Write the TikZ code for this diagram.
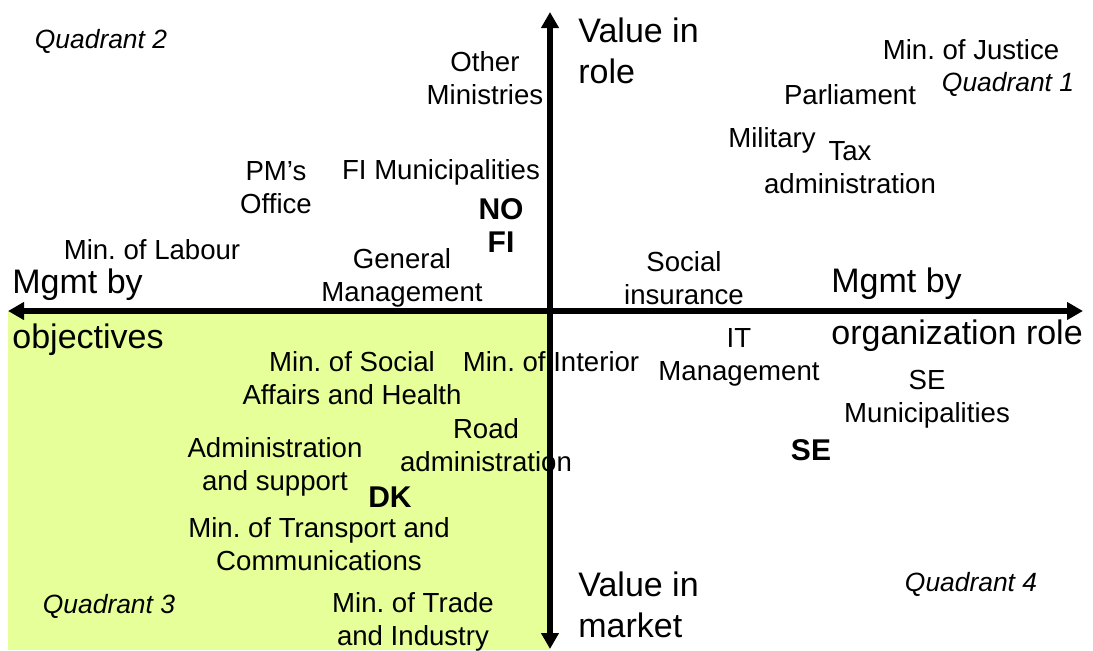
\documentclass[tikz,border=0pt]{standalone}
\usepackage{fontspec}
\setmainfont{Liberation Sans}
\usetikzlibrary{arrows.meta}
\frenchspacing
\definecolor{quadgreen}{RGB}{230,255,153}
\newcommand\labfont{\fontsize{13.8pt}{16.5pt}\selectfont}
\newcommand\ctryfont{\fontsize{15pt}{16.5pt}\selectfont\bfseries}
\newcommand\axfont{\fontsize{17pt}{20.5pt}\selectfont}
\newcommand\quadfont{\fontsize{13.2pt}{16pt}\selectfont\itshape}
\newcommand\tip{Triangle[length=8pt,width=8.5pt]}

\begin{document}
\begin{tikzpicture}[x=0.5pt, y=-0.5pt,
  lbl/.style={align=center, inner sep=0pt, font=\labfont},
  ctry/.style={align=center, inner sep=0pt, font=\ctryfont},
  quad/.style={inner sep=0pt, font=\quadfont},
  axlbl/.style={align=left, inner sep=0pt, anchor=west, font=\axfont},
  axis/.style={line width=3pt, {\tip}-{\tip}}]
  \useasboundingbox (0,0) rectangle (1093,650);
  % axis ends
  \coordinate (west)  at (8,311);
  \coordinate (east)  at (1083,311);
  \coordinate (north) at (550,12);
  \coordinate (south) at (550,649);
  % shaded quadrant
  \fill[quadgreen] (8,311) rectangle (550,650);
  % quadrant names
  \node[quad] (q2) at (101,41)   {Quadrant 2};
  \node[quad] (q1) at (1008,84)  {Quadrant 1};
  \node[quad] (q3) at (109,606)  {Quadrant 3};
  \node[quad] (q4) at (971,584)  {Quadrant 4};
  % axis labels
  \node[axlbl] (vrole)  at (578,51)  {Value in\\role};
  \node[axlbl] (vmkt)   at (578,605) {Value in\\market};
  \node[axlbl] (mobj1)  at (12,285)  {Mgmt by};
  \node[axlbl] (mobj2)  at (12,340)  {objectives};
  \node[axlbl] (mrole1) at (831,284) {Mgmt by};
  \node[axlbl] (mrole2) at (831,336) {organization role};
  % organisations
  \node[lbl] (othmin)  at (485,78)  {Other\\Ministries};
  \node[lbl] (justice) at (971,50)  {Min. of Justice};
  \node[lbl] (parl)    at (850,95)  {Parliament};
  \node[lbl] (mil)     at (772,140) {Military};
  \node[lbl] (tax)     at (850,168) {Tax\\administration};
  \node[lbl] (pmo)     at (276,188) {PM’s\\Office};
  \node[lbl] (fimun)   at (441,172) {FI Municipalities};
  \node[lbl] (labour)  at (152,250) {Min. of Labour};
  \node[lbl] (genmgmt) at (402,278) {General\\Management};
  \node[lbl] (socins)  at (684,278) {Social\\insurance};
  \node[lbl] (socaff)  at (352,378) {Min. of Social\\Affairs and Health};
  \node[lbl] (interior) at (551,362) {Min. of Interior};
  \node[lbl] (itmgmt)  at (739,357) {IT\\Management};
  \node[lbl] (semun)   at (927,399) {SE\\Municipalities};
  \node[lbl] (road)    at (486,445) {Road\\administration};
  \node[lbl] (admsup)  at (275,467) {Administration\\and support};
  \node[lbl] (transp)  at (319,544) {Min. of Transport and\\Communications};
  \node[lbl] (trade)   at (413,622) {Min. of Trade\\and Industry};
  % countries
  \node[ctry] (nofi) at (501,226) {NO\\FI};
  \node[ctry] (dk)   at (390,497) {DK};
  \node[ctry] (se)   at (811,450) {SE};
  % axes
  \draw[axis] (west) -- (east);
  \draw[axis] (north) -- (south);
\end{tikzpicture}
\end{document}
